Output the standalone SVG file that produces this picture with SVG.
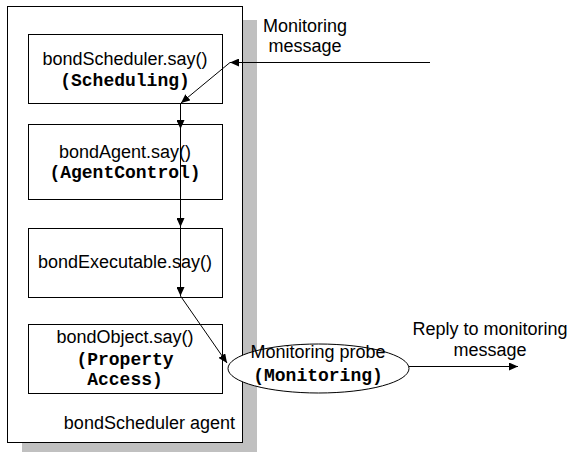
<svg xmlns="http://www.w3.org/2000/svg" width="570" height="452" viewBox="0 0 570 452">
<style>
.box{fill:#fff;stroke:#000;stroke-width:1}
.sans{font-family:"Liberation Sans",Arial,sans-serif;font-size:18px;fill:#000}
.mono{font-family:"Liberation Mono","Courier New",monospace;font-size:18px;font-weight:bold;fill:#000}
.c{text-anchor:middle}
.conn{stroke:#000;stroke-width:1;fill:none;marker-end:url(#ah)}
</style>
<defs>
<marker id="ah" markerUnits="userSpaceOnUse" markerWidth="10" markerHeight="8" refX="9" refY="4" orient="auto">
<path d="M0,0 L9,4 L0,8 Z" fill="#000"/>
</marker>
</defs>
<rect x="22" y="20" width="235" height="436" fill="#c0c0c0"/>
<g id="agent">
<rect class="box" x="7.5" y="6.5" width="235" height="436"/>
<text class="sans" x="235" y="429" text-anchor="end">bondScheduler agent</text>
</g>
<g id="scheduler">
<rect class="box" x="28.5" y="34.5" width="194" height="69"/>
<text class="sans c" x="125" y="65">bondScheduler.say()</text>
<text class="mono c" x="125" y="86">(Scheduling)</text>
</g>
<g id="agentctl">
<rect class="box" x="28.5" y="124.5" width="194" height="75"/>
<text class="sans c" x="125" y="158">bondAgent.say()</text>
<text class="mono c" x="125" y="178">(AgentControl)</text>
</g>
<g id="executable">
<rect class="box" x="28.5" y="228.5" width="194" height="69"/>
<text class="sans c" x="125" y="268">bondExecutable.say()</text>
</g>
<g id="object">
<rect class="box" x="28.5" y="324.5" width="194" height="69"/>
<text class="sans c" x="125" y="343">bondObject.say()</text>
<text class="mono c" x="125" y="365">(Property</text>
<text class="mono c" x="125" y="385">Access)</text>
</g>
<g id="probe">
<ellipse class="box" cx="318.5" cy="368.5" rx="90.5" ry="24.5"/>
<text class="sans c" x="318" y="358">Monitoring probe</text>
<text class="mono c" x="318" y="381">(Monitoring)</text>
</g>
<g id="labels">
<text class="sans c" x="305" y="32">Monitoring</text>
<text class="sans c" x="305" y="52">message</text>
<text class="sans c" x="490" y="335">Reply to monitoring</text>
<text class="sans c" x="490" y="356">message</text>
</g>
<g id="connectors">
<line class="conn" x1="430" y1="62.5" x2="230" y2="62.5"/>
<line class="conn" x1="230" y1="62.5" x2="181" y2="103"/>
<line class="conn" x1="180.5" y1="103" x2="180.5" y2="129"/>
<line class="conn" x1="180.5" y1="129" x2="180.5" y2="227"/>
<line class="conn" x1="180.5" y1="227" x2="180.5" y2="296"/>
<line class="conn" x1="180.5" y1="296" x2="227" y2="363"/>
<line class="conn" x1="409" y1="366.5" x2="518" y2="366.5"/>
</g>
</svg>
